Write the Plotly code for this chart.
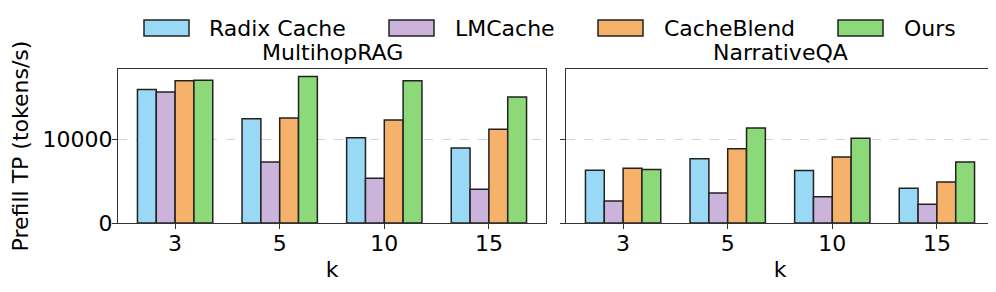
import plotly.graph_objects as go

categories = ["3", "5", "10", "15"]
methods = ["Radix Cache", "LMCache", "CacheBlend", "Ours"]
colors = ["#9ad9f6", "#cbb3db", "#f6b26b", "#8dd878"]

multihop = {
    "Radix Cache": [15940, 12470, 10200, 8960],
    "LMCache": [15660, 7290, 5340, 4020],
    "CacheBlend": [17010, 12550, 12310, 11200],
    "Ours": [17050, 17490, 17010, 15060],
}
narrative = {
    "Radix Cache": [6300, 7690, 6260, 4140],
    "LMCache": [2630, 3590, 3150, 2230],
    "CacheBlend": [6530, 8880, 7890, 4900],
    "Ours": [6380, 11360, 10120, 7290],
}
panel_titles = ["MultihopRAG", "NarrativeQA"]
y_ticks = [0, 10000]

OFF = 8  # page body margin
W, H = 996 - OFF, 292 - OFF
L, R, T, B = 118 - OFF, 10 - OFF, 69 - OFF, 69
pw = W - L - R
ph = H - T - B
gap = 20
half = (pw - gap) / 2

FONT = "DejaVu Sans"
fig = go.Figure()
xpos = list(range(len(categories)))

for pi, data in enumerate([multihop, narrative]):
    xa = "x" if pi == 0 else "x2"
    ya = "y" if pi == 0 else "y2"
    for m, c in zip(methods, colors):
        fig.add_trace(go.Bar(
            x=xpos, y=data[m], name=m, marker=dict(color=c, line=dict(color="#222222", width=1.5)),
            xaxis=xa, yaxis=ya, showlegend=False, offsetgroup=m,
        ))

axis_common = dict(
    showline=True, linecolor="#333333", linewidth=1.3, mirror=True,
    ticks="outside", ticklen=5, tickcolor="#333333", tickwidth=1.2,
    tickfont=dict(family=FONT, size=22, color="black"), zeroline=False,
    ticklabelstandoff=-5,
)
xr = [-0.546, 3.546]
fig.update_layout(
    width=W, height=H, margin=dict(l=L, r=R, t=T, b=B),
    paper_bgcolor="white", plot_bgcolor="white",
    barmode="group", bargap=0.28, bargroupgap=0,
    font=dict(family=FONT, size=22, color="black"),
    xaxis=dict(domain=[0, half / pw], range=xr, tickvals=xpos, ticktext=categories,
               showgrid=False, title=dict(text="k", font=dict(family=FONT, size=22), standoff=7), **axis_common),
    xaxis2=dict(domain=[(half + gap) / pw, 1], range=xr, tickvals=xpos, ticktext=categories,
                showgrid=False, anchor="y2", title=dict(text="k", font=dict(family=FONT, size=22), standoff=7), **axis_common),
    yaxis=dict(range=[0, 18400], tickvals=y_ticks, ticktext=["0", "10000"], showgrid=True,
               gridcolor="#d3d3d3", griddash="dash", gridwidth=1,
               title=dict(text="Prefill TP (tokens/s)", font=dict(family=FONT, size=22), standoff=9), **axis_common),
    yaxis2=dict(range=[0, 18400], tickvals=y_ticks, showticklabels=False, showgrid=True,
                gridcolor="#d3d3d3", griddash="dash", gridwidth=1, anchor="x2", matches="y", **axis_common),
)

def px_x(p):
    return (p - OFF - L) / pw
def px_y(p):
    return (H - B - (p - OFF)) / ph

# panel titles
for pi, t in enumerate(panel_titles):
    cx = (half / 2 + pi * (half + gap)) / pw
    fig.add_annotation(text=t, x=cx, y=px_y(53), xref="paper", yref="paper",
                       showarrow=False, xanchor="center", yanchor="middle",
                       font=dict(family=FONT, size=22, color="black"))

# legend (manual, wide patches)
patch_left = [144, 389, 598, 838]
text_left = [207, 453, 662, 902]
for m, c, pl, tl in zip(methods, colors, patch_left, text_left):
    fig.add_shape(type="rect", xref="paper", yref="paper",
                  x0=px_x(pl), x1=px_x(pl + 45), y0=px_y(36), y1=px_y(20),
                  fillcolor=c, line=dict(color="#222222", width=1.5))
    fig.add_annotation(text=m, x=px_x(tl), y=px_y(28), xref="paper", yref="paper",
                       showarrow=False, xanchor="left", yanchor="middle",
                       font=dict(family=FONT, size=22, color="black"))

fig.write_html("out.html")
